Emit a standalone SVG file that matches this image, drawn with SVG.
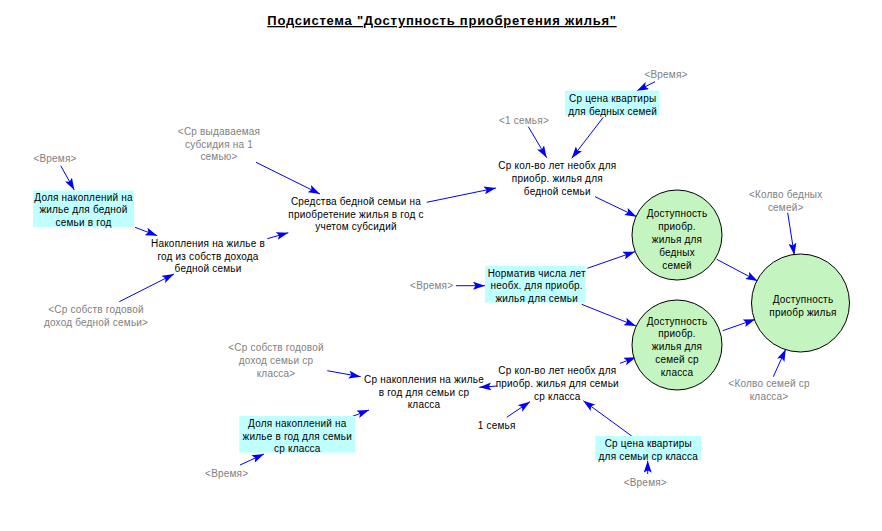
<svg xmlns="http://www.w3.org/2000/svg" width="882" height="531" viewBox="0 0 882 531">
<defs>
<marker id="ah" markerUnits="userSpaceOnUse" markerWidth="13" markerHeight="8" refX="12" refY="4" orient="auto">
<path d="M0,0 L12,4 L0,8 L2.5,4 z" fill="#0000ff"/>
</marker>
<style>
text{font-family:"Liberation Sans",Arial,sans-serif;font-size:10px;letter-spacing:0.2px;text-anchor:middle;fill:#000}
.g{fill:#808080}
.box{fill:#c0ffff;stroke:none}
.circ{fill:#c4f5c0;stroke:#000;stroke-width:1}
.c line{stroke:#0000ff;stroke-width:1;marker-end:url(#ah)}
.title{font-size:13px;font-weight:bold;text-decoration:underline;letter-spacing:0.75px}
</style>
</defs>
<rect width="882" height="531" fill="#fff"/>
<text class="title" x="442" y="25">Подсистема "Доступность приобретения жилья"</text>

<g class="c" id="connectors">
<line x1="60.7" y1="165.7" x2="74.3" y2="190"/>
<line x1="135" y1="227.3" x2="157.3" y2="235.7"/>
<line x1="119.3" y1="301.7" x2="174" y2="274"/>
<line x1="267.3" y1="238.7" x2="288.3" y2="232.7"/>
<line x1="256" y1="162.3" x2="320" y2="194"/>
<line x1="655" y1="81.7" x2="636.7" y2="91"/>
<line x1="603.3" y1="117.3" x2="571.7" y2="158.3"/>
<line x1="528.3" y1="126.7" x2="546.7" y2="157.7"/>
<line x1="426.7" y1="202.3" x2="496" y2="188"/>
<line x1="595" y1="196.7" x2="636.7" y2="216.7"/>
<line x1="456" y1="285.7" x2="485" y2="285.7"/>
<line x1="587.3" y1="268.3" x2="635" y2="251.7"/>
<line x1="581.7" y1="304.3" x2="636" y2="326"/>
<line x1="716.7" y1="259.3" x2="757.7" y2="281"/>
<line x1="722.7" y1="330.7" x2="755.3" y2="319.3"/>
<line x1="787.7" y1="212.7" x2="794.3" y2="255"/>
<line x1="773.3" y1="376.7" x2="785.7" y2="349.3"/>
<line x1="620" y1="363.3" x2="636" y2="357.3"/>
<line x1="327.3" y1="370.7" x2="360.7" y2="376.7"/>
<line x1="351.7" y1="416.7" x2="369" y2="410"/>
<line x1="240" y1="465" x2="264" y2="454"/>
<line x1="497" y1="386" x2="479.3" y2="387.3"/>
<line x1="506.7" y1="417.3" x2="530" y2="401.7"/>
<line x1="631.7" y1="436" x2="583.3" y2="400.7"/>
<line x1="647.7" y1="474" x2="647.7" y2="460.7"/>
</g>

<g id="vremya1"><text class="g" x="55" y="161.5">&lt;Время&gt;</text></g>
<g id="dolya_bed">
<rect class="box" x="33" y="190.5" width="101" height="36.5"/>
<text x="83.5" y="200.5">Доля накоплений на</text>
<text x="83.5" y="213">жилье для бедной</text>
<text x="83.5" y="225.5">семьи в год</text>
</g>
<g id="nakopl_bed">
<text x="208" y="247.3">Накопления на жилье в</text>
<text x="208" y="260">год из собств дохода</text>
<text x="208" y="272.3">бедной семьи</text>
</g>
<g id="sr_vyd">
<text class="g" x="219" y="135">&lt;Ср выдаваемая</text>
<text class="g" x="219" y="148">субсидия на 1</text>
<text class="g" x="219" y="160">семью&gt;</text>
</g>
<g id="sr_sobstv_bed">
<text class="g" x="96" y="313">&lt;Ср собств годовой</text>
<text class="g" x="96" y="325.7">доход бедной семьи&gt;</text>
</g>
<g id="sredstva">
<text x="356" y="204.7">Средства бедной семьи на</text>
<text x="356" y="218">приобретение жилья в год с</text>
<text x="356" y="230">учетом субсидий</text>
</g>
<g id="vremya2"><text class="g" x="666" y="78">&lt;Время&gt;</text></g>
<g id="sr_cena_bed">
<rect class="box" x="565" y="90.7" width="94" height="25"/>
<text x="612.7" y="101.7">Ср цена квартиры</text>
<text x="612.7" y="115">для бедных семей</text>
</g>
<g id="one_semya_g"><text class="g" x="524" y="124">&lt;1 семья&gt;</text></g>
<g id="sr_kol_bed">
<text x="557.3" y="169">Ср кол-во лет необх для</text>
<text x="557.3" y="182.3">приобр. жилья для</text>
<text x="557.3" y="194.7">бедной семьи</text>
</g>
<g id="dost_bed">
<circle class="circ" cx="677" cy="235" r="45"/>
<text x="677" y="217.3">Доступность</text>
<text x="677" y="230">приобр.</text>
<text x="677" y="243">жилья для</text>
<text x="677" y="256">бедных</text>
<text x="677" y="268.7">семей</text>
</g>
<g id="dost_sr">
<circle class="circ" cx="677" cy="345" r="45"/>
<text x="677" y="324.7">Доступность</text>
<text x="677" y="337.3">приобр.</text>
<text x="677" y="350">жилья для</text>
<text x="677" y="363">семей ср</text>
<text x="677" y="375.7">класса</text>
</g>
<g id="dost_all">
<circle class="circ" cx="800.5" cy="303" r="49"/>
<text x="803" y="303">Доступность</text>
<text x="803" y="315.7">приобр жилья</text>
</g>
<g id="kolvo_bed">
<text class="g" x="785.7" y="198">&lt;Колво бедных</text>
<text class="g" x="785.7" y="210.7">семей&gt;</text>
</g>
<g id="kolvo_sr">
<text class="g" x="769" y="386.7">&lt;Колво семей ср</text>
<text class="g" x="769" y="399.7">класса&gt;</text>
</g>
<g id="normativ">
<rect class="box" x="485" y="266" width="100.7" height="36.7"/>
<text x="536.7" y="276.7">Норматив числа лет</text>
<text x="536.7" y="289.3">необх. для приобр.</text>
<text x="536.7" y="301.7">жилья для семьи</text>
</g>
<g id="vremya3"><text class="g" x="431.7" y="289">&lt;Время&gt;</text></g>
<g id="sr_sobstv_sr">
<text class="g" x="276" y="351.3">&lt;Ср собств годовой</text>
<text class="g" x="276" y="364">доход семьи ср</text>
<text class="g" x="276" y="376.7">класса&gt;</text>
</g>
<g id="sr_nakopl_sr">
<text x="424" y="383">Ср накопления на жилье</text>
<text x="424" y="396.3">в год для семьи ср</text>
<text x="424" y="408">класса</text>
</g>
<g id="sr_kol_sr">
<text x="557.3" y="374">Ср кол-во лет необх для</text>
<text x="557.3" y="387.3">приобр. жилья для семьи</text>
<text x="557.3" y="400">ср класса</text>
</g>
<g id="one_semya"><text x="496.7" y="429">1 семья</text></g>
<g id="dolya_sr">
<rect class="box" x="239.3" y="416" width="115.7" height="36.7"/>
<text x="297.3" y="427.3">Доля накоплений на</text>
<text x="297.3" y="440">жилье в год для семьи</text>
<text x="297.3" y="452">ср класса</text>
</g>
<g id="vremya4"><text class="g" x="226.7" y="477.3">&lt;Время&gt;</text></g>
<g id="sr_cena_sr">
<rect class="box" x="595.3" y="436" width="105.7" height="23.7"/>
<text x="648.3" y="447.3">Ср цена квартиры</text>
<text x="648.3" y="460">для семьи ср класса</text>
</g>
<g id="vremya5"><text class="g" x="645.3" y="486.3">&lt;Время&gt;</text></g>
</svg>
